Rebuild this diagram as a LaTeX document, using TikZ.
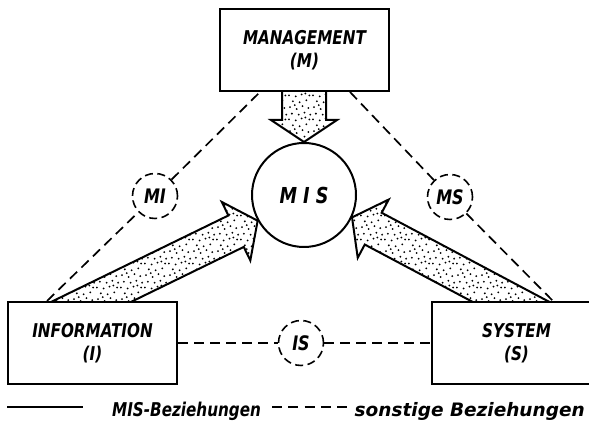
\documentclass[tikz,border=0pt]{standalone}
\usepackage{fontspec}
\setmainfont{DejaVu Sans}
\newfontfamily\dinfont{DejaVu Sans}[FakeStretch=0.8]
\usetikzlibrary{calc,positioning,patterns,backgrounds}

% irregular stipple for the MIS arrows
\pgfdeclarepatternformonly{stipple}{\pgfpoint{0pt}{0pt}}{\pgfpoint{24pt}{24pt}}{\pgfpoint{24pt}{24pt}}{%
  \foreach \px/\py in {2/3,9/1,15/4,21/2,5/9,12/8,19/10,1/15,8/14,14/16,22/15,4/21,11/20,17/22,23/20,7/5,18/17}{%
    \pgfpathcircle{\pgfpoint{\px pt}{\py pt}}{1.05pt}\pgfusepath{fill}}%
}

\tikzset{
    block/.style={draw, line width=2pt, fill=white, minimum width=169pt, minimum height=82pt,
      align=center, font=\dinfont\fontsize{19}{23}\selectfont\bfseries\itshape}, % the three boxes
    relcircle/.style={circle, draw, line width=1.6pt, dash pattern=on 8pt off 4.5pt, fill=white,
      minimum size=45pt, inner sep=0pt, font=\dinfont\fontsize{20}{20}\selectfont\bfseries\itshape},
    other/.style={line width=1.7pt, dash pattern=on 10pt off 6pt}, % sonstige Beziehungen
    fatarrow/.style={draw, line width=2pt, pattern=stipple, preaction={fill=white}},
    legend/.style={inner sep=0pt, font=\fontsize{18.5}{18.5}\selectfont\bfseries\itshape},
}

\begin{document}
\begin{tikzpicture}[x=1pt,y=1pt]
  \useasboundingbox (0,0) rectangle (589,422);

  \node[block] (M) at (304.5,372) {MANAGEMENT\\(M)};
  \node[block] (I) at (92.5,79) {INFORMATION\\(I)};
  \node[block, right=253pt of I] (S) {SYSTEM\\(S)};
  \node[circle, draw, line width=2pt, fill=white, minimum size=104pt,
      font=\dinfont\fontsize{22}{22}\selectfont\bfseries\itshape] (MIS) at (304,227) {M I S};

  % MIS-Beziehungen
  \begin{scope}[on background layer]
    \begin{scope}[shift={(MIS.north)}, rotate=-90]
      \draw[fatarrow] (0,0) -- (-22,33) -- (-22,22) -- (-70,22) -- (-70,-22) -- (-22,-22) -- (-22,-33) -- cycle;
    \end{scope}
    \begin{scope}[shift={(MIS.209)}, rotate=26]
      \draw[fatarrow] (0,0) -- (-24,32.5) -- (-24,17.5) -- (-240,17.5) -- (-240,-17.5) -- (-24,-17.5) -- (-24,-32.5) -- cycle;
    \end{scope}
    \begin{scope}[shift={(MIS.335)}, rotate=152]
      \draw[fatarrow] (0,0) -- (-24,33) -- (-24,18) -- (-240,18) -- (-240,-18) -- (-24,-18) -- (-24,-33) -- cycle;
    \end{scope}
  \end{scope}

  % sonstige Beziehungen
  \node[relcircle] (MI) at (155,226) {MI};
  \node[relcircle] (MS) at (450,225) {MS};
  \node[relcircle] (IS) at (301,79) {IS};

  \coordinate (I-top) at ($(I.north west)+(40,0)$);
  \coordinate (M-left) at ($(M.south west)+(41,0)$);
  \coordinate (M-right) at ($(M.south east)+(-40,0)$);
  \coordinate (S-top) at ($(S.north west)+(122,0)$);
  \draw[other] (I-top) -- (MI) -- (M-left);
  \draw[other] (M-right) -- (MS) -- (S-top);
  \draw[other] (I) -- (IS) -- (S);

  % legend
  \node[legend, font=\dinfont\fontsize{19}{19}\selectfont\bfseries\itshape, anchor=base west] (misrel) at (112,5) {MIS-Beziehungen};
  \node[legend, anchor=base east] (otherrel) at (585,5) {sonstige Beziehungen};
  \coordinate (solidA) at (7,15);
  \coordinate (dashA) at (272,15);
  \draw[line width=1.7pt] (solidA) -- ++(76,0) coordinate (solidB);
  \draw[other, dash pattern=on 10pt off 6.25pt] (dashA) -- ++(75,0) coordinate (dashB);
\end{tikzpicture}
\end{document}
